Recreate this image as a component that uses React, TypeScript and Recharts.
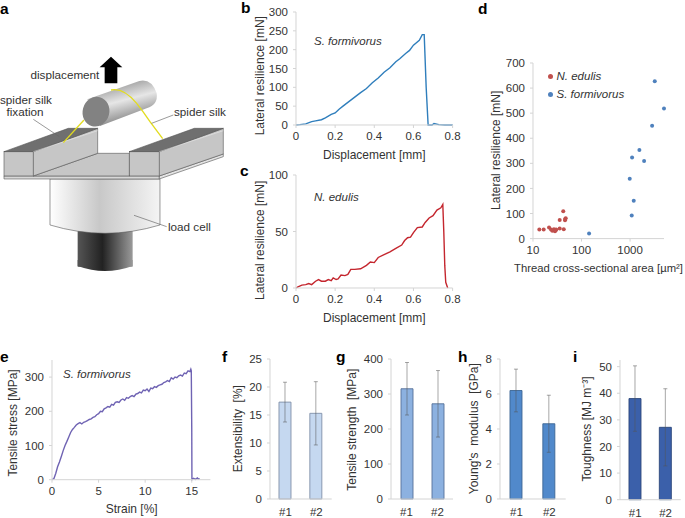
import React from 'react';
import {
    LineChart, Line, BarChart, Bar, ErrorBar, ScatterChart, Scatter,
    XAxis, YAxis, Legend,
} from 'recharts';

const FONT = '"Liberation Sans", Arial, sans-serif';
const AXIS = '#d4d4d4';
const TEXT = '#333333';

// panel b
const formivorusDisp = [0, .02, .05, .08, .1, .13, .15, .18, .2, .22, .24, .27, .3, .33, .36, .39, .42, .45, .48, .51, .53, .56, .58, .6, .63, .645, .655, .665, .675, .695, .705, .73, .76, .8];
const formivorusLoad = [0, 1, 3, 9, 11, 14, 19, 28, 32, 42, 50, 62, 74, 86, 97, 112, 125, 140, 152, 168, 176, 190, 198, 212, 225, 240, 240, 100, 0, 0, 4, 1, 0, 0];

// panel c
const edulisDisp = [0, .01, .03, .05, .065, .08, .1, .115, .13, .15, .165, .18, .19, .205, .215, .23, .25, .265, .28, .3, .33, .36, .38, .4, .42, .45, .48, .51, .54, .555, .57, .585, .6, .62, .645, .66, .68, .7, .72, .74, .75, .755, .76, .765, .775];
const edulisLoad = [0, 1, 2.5, 3, 4, 3, 6, 7.5, 6, 6, 7.5, 6.5, 9, 7.5, 8, 11.5, 11, 12, 16.5, 16.5, 17, 20, 23, 22.5, 27, 29.5, 32, 35, 38, 42, 44.5, 45, 49, 53.5, 54, 58, 62, 64, 69, 71, 74, 50, 20, 5, 0];

// panel d
const edulisArea = [13.5, 16.6, 21.4, 23.5, 25, 27, 28.4, 29.3, 30, 35.5, 35.5, 42, 43, 45.7, 47.2, 46];
const edulisRes = [36, 36, 44, 36, 31, 37, 29, 33, 36, 40, 74, 109, 37, 73, 81, 78];
const formivorusArea = [143, 1082, 1190, 984, 1100, 1945, 1556, 2844, 5000, 3228];
const formivorusRes = [20, 92, 151, 239, 323, 309, 353, 450, 519, 627];

// panel e
const strain = [0, .2, .4, .6, .8, 1, 1.2, 1.4, 1.6, 1.8, 2, 2.2, 2.4, 2.6, 2.8, 3, 3.2, 3.4, 3.6, 3.8, 4, 4.2, 4.4, 4.6, 4.8, 5, 5.2, 5.4, 5.6, 5.8, 6, 6.2, 6.4, 6.6, 6.8, 7, 7.2, 7.4, 7.6, 7.8, 8, 8.2, 8.4, 8.6, 8.8, 9, 9.2, 9.4, 9.6, 9.8, 10, 10.2, 10.4, 10.6, 10.8, 11, 11.2, 11.4, 11.6, 11.8, 12, 12.2, 12.4, 12.6, 12.8, 13, 13.2, 13.4, 13.6, 13.8, 14, 14.2, 14.4, 14.6, 14.8, 14.9, 14.95, 15, 15.02, 15.2, 15.4, 15.6, 15.7, 15.85];
const stress = [0, 3, 18, 38, 52, 68, 85, 100, 112, 125, 138, 147, 153, 160, 164, 167, 163, 168, 170, 173, 176, 178, 182, 184, 190, 193, 200, 199, 207, 210, 214, 212, 220, 218, 226, 228, 226, 233, 236, 232, 240, 238, 243, 246, 243, 250, 252, 256, 254, 262, 260, 265, 258, 268, 266, 272, 270, 275, 277, 279, 284, 286, 290, 287, 298, 294, 300, 298, 304, 306, 303, 312, 310, 318, 316, 323, 318, 150, 0, 4, 1, 5, 2, 3];

// panels f-i
const samples = ['#1', '#2'];
const extensibility = [17.3, 15.3];
const extensibilityErr = [3.55, 5.65];
const strength = [315, 272];
const strengthErr = [75, 95];
const modulus = [6.2, 4.3];
const modulusErr = [1.22, 1.63];
const toughness = [38, 27.2];
const toughnessErr = [12.3, 14.5];

const zip = (xs: number[], ys: number[]) => xs.map((x, i) => ({ x, y: ys[i] }));

const tickStyle = { fontSize: 11.5, fill: TEXT, fontFamily: FONT };
const labelStyle = { fontSize: 12, fill: TEXT, fontFamily: FONT, textAnchor: 'middle' as const };

const Y_W = 60;
const LINE_X_H = 38;
const BAR_X_H = 18;
const PAD = 12;
const PAD_R = 24;

const axisCommon = {
    stroke: AXIS,
    tick: tickStyle,
    tickSize: 3,
    interval: 0 as const,
    axisLine: { stroke: AXIS },
    tickLine: { stroke: AXIS },
};

// places a chart so that its plot box lands exactly on l/r/t/b of the page
function frame(l: number, r: number, t: number, b: number, xh: number) {
    return {
        style: { position: 'absolute' as const, left: l - Y_W, top: t - PAD },
        width: r - l + Y_W + PAD_R,
        height: b - t + PAD + xh,
        margin: { top: PAD, right: PAD_R, bottom: 0, left: 0 },
    };
}

interface LinePanelProps {
    box: number[];
    data: { x: number; y: number }[];
    xDomain: number[];
    xTicks: number[];
    yDomain: number[];
    yTicks: number[];
    color: string;
    xLabel: string;
    yLabel: string;
    xLabelPos: number[];
    yLabelPos: number[];
}

function LinePanel({ box, data, xDomain, xTicks, yDomain, yTicks, color, xLabel, yLabel, xLabelPos, yLabelPos }: LinePanelProps) {
    const [l, r, t, b] = box;
    return (
        <LineChart {...frame(l, r, t, b, LINE_X_H)} data={data}>
            <XAxis {...axisCommon} dataKey="x" type="number" domain={xDomain} ticks={xTicks} height={LINE_X_H} tickMargin={4}
                label={{ value: xLabel, position: 'center', style: labelStyle, dx: xLabelPos[0] - (l + r) / 2, dy: xLabelPos[1] - (b + LINE_X_H / 2) }} />
            <YAxis {...axisCommon} type="number" domain={yDomain} ticks={yTicks} width={Y_W} tickMargin={5}
                label={{ value: yLabel, position: 'center', angle: -90, style: labelStyle, dx: yLabelPos[0] - (l - Y_W / 2), dy: yLabelPos[1] - (t + b) / 2 }} />
            <Line dataKey="y" stroke={color} strokeWidth={1.4} dot={false} isAnimationActive={false} />
        </LineChart>
    );
}

interface BarPanelProps {
    box: number[];
    values: number[];
    errors: number[];
    yDomain: number[];
    yTicks: number[];
    fill: string;
    edge: string;
    yLabel: string;
    yLabelPos: number[];
}

function BarPanel({ box, values, errors, yDomain, yTicks, fill, edge, yLabel, yLabelPos }: BarPanelProps) {
    const [l, r, t, b] = box;
    const data = samples.map((name, i) => ({ name, value: values[i], err: errors[i] }));
    return (
        <BarChart {...frame(l, r, t, b, BAR_X_H)} data={data}>
            <XAxis {...axisCommon} dataKey="name" height={BAR_X_H} tickSize={0} tickMargin={9} />
            <YAxis {...axisCommon} type="number" domain={yDomain} ticks={yTicks} width={Y_W} tickMargin={5}
                label={{ value: yLabel, position: 'center', angle: -90, style: labelStyle, dx: yLabelPos[0] - (l - Y_W / 2), dy: yLabelPos[1] - (t + b) / 2 }} />
            <Bar dataKey="value" barSize={12} fill={fill} stroke={edge} strokeWidth={0.9} isAnimationActive={false}>
                <ErrorBar dataKey="err" width={2} stroke="#555555" strokeOpacity={0.65} strokeWidth={0.8} isAnimationActive={false} />
            </Bar>
        </BarChart>
    );
}

const smallDot = (fill: string) => (p: any) => <circle cx={p.cx} cy={p.cy} r={2} fill={fill} />;

function ScatterPanel() {
    const box = frame(533, 664, 62.7, 238.3, LINE_X_H);
    return (
        <ScatterChart {...box}>
            <XAxis {...axisCommon} dataKey="x" type="number" scale="log" domain={[10, 5000]} ticks={[10, 100, 1000]} height={LINE_X_H} tickMargin={4}
                label={{ value: 'Thread cross-sectional area [µm²]', position: 'center', style: { ...labelStyle, fontSize: 11.3 }, dx: 598.5 - 598.5, dy: 268 - (238.3 + LINE_X_H / 2) }} />
            <YAxis {...axisCommon} dataKey="y" type="number" domain={[0, 700]} ticks={[0, 100, 200, 300, 400, 500, 600, 700]} width={Y_W} tickMargin={5}
                label={{ value: 'Lateral resilience [mN]', position: 'center', angle: -90, style: labelStyle, dx: 496 - (533 - 30), dy: 150 - 150.5 }} />
            <Legend layout="vertical" align="center" verticalAlign="middle" iconType="circle" iconSize={5}
                wrapperStyle={{ left: 74.5, top: 16, width: 120, fontFamily: FONT, fontSize: 11.5, lineHeight: '18px' }}
                formatter={(v: string) => <span style={{ color: TEXT, fontStyle: 'italic' }}>{v}</span>} />
            <Scatter name="N. edulis" data={zip(edulisArea, edulisRes)} fill="#c0504d" shape={smallDot('#c0504d')} isAnimationActive={false} />
            <Scatter name="S. formivorus" data={zip(formivorusArea, formivorusRes)} fill="#4f81bd" shape={smallDot('#4f81bd')} isAnimationActive={false} />
        </ScatterChart>
    );
}

// panel a: the set-up drawing, in coordinates 3x the page
function Schematic() {
    return (
        <g transform="scale(0.3333)" stroke="#555" strokeWidth={1.8}>
            <polygon points="233,680 398,680 398,800 233,800" fill="url(#dark)" stroke="none" />
            <path d="M233,798 Q315,828 398,798 L398,780 L233,780 Z" fill="url(#dark)" stroke="none" />
            <path d="M150,537 L150,675 Q315,725 480,675 L480,537 Z" fill="url(#cell)" />
            <polygon points="12,528 478,528 478,537 12,537" fill="#d8d8d8" />
            <polygon points="478,528 670,462 670,470 478,537" fill="#e4e4e4" />
            <polygon points="100,528 293,460 388,460 388,528" fill="#c6c6c6" />
            <rect x="12" y="455" width="88" height="73" fill="#c6c6c6" />
            <polygon points="100,455 293,385 293,460 100,528" fill="#c6c6c6" />
            <polygon points="12,455 205,385 293,385 100,455" fill="#6f6f6f" />
            <polyline points="100,455 293,392" fill="none" stroke="#eee" strokeWidth={1.5} />
            <rect x="388" y="455" width="90" height="73" fill="#c6c6c6" />
            <polygon points="478,455 670,385 670,462 478,528" fill="#c6c6c6" />
            <polygon points="388,455 583,385 670,385 478,455" fill="#6f6f6f" />
            <polyline points="478,455 670,392" fill="none" stroke="#eee" strokeWidth={1.5} />
            <polyline points="190,428 252,360" fill="none" stroke="#e2dc1f" strokeWidth={4} />
            <path d="M262,298 L418,243 Q455,235 470,280 Q475,315 440,325 L300,378 Z" fill="url(#roller)" stroke="none" />
            <ellipse cx="288" cy="335" rx="40" ry="45" transform="rotate(15 288 335)" fill="#828282" stroke="none" />
            <path d="M333,270 Q370,262 410,310 Q430,335 450,365 L488,416" fill="none" stroke="#e2dc1f" strokeWidth={4} />
            <polygon points="333,170 367,202 352,202 352,250 314,250 314,202 299,202" fill="#000" stroke="none" />
            <g stroke="#666" strokeWidth={2} fill="none">
                <line x1="520" y1="345" x2="455" y2="370" />
                <line x1="100" y1="358" x2="178" y2="410" />
                <line x1="402" y1="646" x2="500" y2="680" />
            </g>
        </g>
    );
}

function Overlay() {
    const text = { fontFamily: FONT, fontSize: 11.7, fill: TEXT };
    const letter = { fontFamily: FONT, fontSize: 15.5, fontWeight: 700, fill: '#000' };
    const species = { fontFamily: FONT, fontSize: 11.5, fontStyle: 'italic', fill: TEXT };
    return (
        <svg width={685} height={518} style={{ position: 'absolute', left: 0, top: 0 }}>
            <defs>
                <linearGradient id="dark" x1="0" x2="1" y1="0" y2="0">
                    <stop offset="0" stopColor="#555" />
                    <stop offset="0.45" stopColor="#222" />
                    <stop offset="1" stopColor="#9a9a9a" />
                </linearGradient>
                <linearGradient id="cell" x1="0" x2="1" y1="0" y2="0">
                    <stop offset="0" stopColor="#ffffff" />
                    <stop offset="0.45" stopColor="#c8c8c8" />
                    <stop offset="1" stopColor="#f4f4f4" />
                </linearGradient>
                <linearGradient id="roller" x1="0.3" x2="0.7" y1="0" y2="1">
                    <stop offset="0" stopColor="#8a8a8a" />
                    <stop offset="0.45" stopColor="#e6e6e6" />
                    <stop offset="1" stopColor="#6a6a6a" />
                </linearGradient>
            </defs>
            <Schematic />
            <text {...text} x={30.5} y={79}>displacement</text>
            <text {...text} x={0} y={103.5}>spider silk</text>
            <text {...text} x={25} y={115.5} textAnchor="middle">fixation</text>
            <text {...text} x={174} y={116}>spider silk</text>
            <text {...text} x={168} y={231}>load cell</text>

            <text {...species} x={314} y={45}>S. formivorus</text>
            <text {...species} x={314} y={201}>N. edulis</text>
            <text {...species} x={63} y={378}>S. formivorus</text>

            <text {...letter} x={0} y={14}>a</text>
            <text {...letter} x={241} y={13}>b</text>
            <text {...letter} x={240} y={176}>c</text>
            <text {...letter} x={478} y={14}>d</text>
            <text {...letter} x={0} y={362}>e</text>
            <text {...letter} x={222} y={362}>f</text>
            <text {...letter} x={336} y={362}>g</text>
            <text {...letter} x={458} y={362}>h</text>
            <text {...letter} x={573} y={362}>i</text>
        </svg>
    );
}

export default function App() {
    return (
        <div style={{ position: 'absolute', left: 0, top: 0, width: 685, height: 518, background: '#fff', overflow: 'hidden' }}>
            <Overlay />
            <LinePanel box={[295.7, 452.3, 12.3, 125.3]} data={zip(formivorusDisp, formivorusLoad)}
                xDomain={[0, .8]} xTicks={[0, .2, .4, .6, .8]} yDomain={[0, 300]} yTicks={[0, 50, 100, 150, 200, 250, 300]}
                color="#2f7ebc" xLabel="Displacement [mm]" yLabel="Lateral resilience [mN]" xLabelPos={[374, 155]} yLabelPos={[259, 76]} />
            <LinePanel box={[295.7, 452.3, 174.7, 287.7]} data={zip(edulisDisp, edulisLoad)}
                xDomain={[0, .8]} xTicks={[0, .2, .4, .6, .8]} yDomain={[0, 100]} yTicks={[0, 50, 100]}
                color="#c4262e" xLabel="Displacement [mm]" yLabel="Lateral resilience [mN]" xLabelPos={[374, 317]} yLabelPos={[259, 240]} />
            <ScatterPanel />
            <LinePanel box={[52.3, 210.7, 360, 479.7]} data={zip(strain, stress)}
                xDomain={[0, 17]} xTicks={[0, 5, 10, 15]} yDomain={[0, 350]} yTicks={[0, 100, 200, 300]}
                color="#6f63b3" xLabel="Strain [%]" yLabel="Tensile stress [MPa]" xLabelPos={[132, 509]} yLabelPos={[13.5, 423]} />
            <BarPanel box={[270, 331.7, 359.3, 499.3]} values={extensibility} errors={extensibilityErr}
                yDomain={[0, 25]} yTicks={[0, 5, 10, 15, 20, 25]} fill="#c5d8f0" edge="#8090a8" yLabel={'Extensibility\u00a0 [%]'} yLabelPos={[238, 429]} />
            <BarPanel box={[391, 453, 359.3, 499.3]} values={strength} errors={strengthErr}
                yDomain={[0, 400]} yTicks={[0, 100, 200, 300, 400]} fill="#8cb1e0" edge="#557098" yLabel={'Tensile strength\u00a0 [MPa]'} yLabelPos={[352, 430]} />
            <BarPanel box={[500, 565.7, 359.3, 499.3]} values={modulus} errors={modulusErr}
                yDomain={[0, 8]} yTicks={[0, 2, 4, 6, 8]} fill="#5189cb" edge="#3d6794" yLabel={"Young's\u00a0 modulus\u00a0 [GPa]"} yLabelPos={[474, 429]} />
            <BarPanel box={[620, 680.7, 360, 499.7]} values={toughness} errors={toughnessErr}
                yDomain={[0, 52.5]} yTicks={[0, 10, 20, 30, 40, 50]} fill="#3b60aa" edge="#2b4679" yLabel="Toughness  [MJ m⁻³]" yLabelPos={[587, 429]} />
        </div>
    );
}
